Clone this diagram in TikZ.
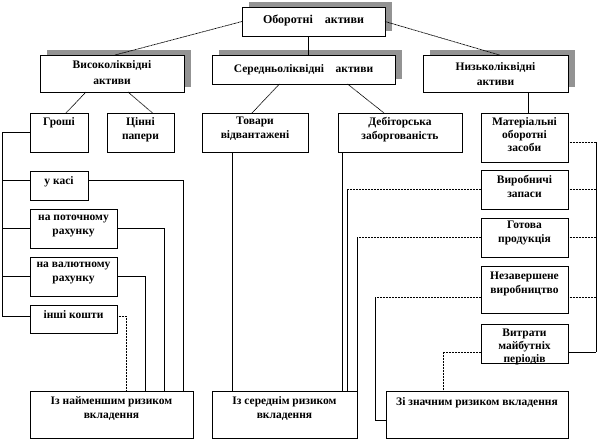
\documentclass[tikz,border=0pt]{standalone}
\usepackage{fontspec}
\setmainfont{Liberation Serif}[BoldFont={Liberation Serif Bold}]
\begin{document}
\begin{tikzpicture}[x=1pt,y=-1pt,
  box/.style={draw=black,line width=0.8pt,fill=white,rectangle,inner sep=0pt,outer sep=0pt},
  shadowfill/.style={fill=gray!85},
  txt/.style={inner sep=0pt,outer sep=0pt,align=center,font=\bfseries\fontsize{11.5}{14}\selectfont},
  conn/.style={line width=0.7pt},
  dline/.style={line width=0.7pt,dash pattern=on 1pt off 0.5pt},
]
\useasboundingbox (0,0) rectangle (597,442);
\newcommand\bx[8][box]{%
  \node[#1,anchor=north west,minimum width={(#5-#3)*1pt},minimum height={(#6-#4)*1pt}] (#2) at (#3,#4) {};
  \node[txt,anchor=north] (#2t) at ([yshift=-#8pt]#2.north) {#7};}
\newcommand\shd[4]{\fill[shadowfill] (#1+7,#2-5) rectangle (#3+7,#4-5);}
% shadows
\shd{242}{7}{385}{36}
\shd{40}{55}{184}{92}
\shd{212}{55}{395}{84}
\shd{423}{55}{568}{92}
% level 1 and 2
\bx{top}{242}{7}{385}{36}{\fontsize{12}{14}\selectfont Оборотні\quad активи}{8}
\bx{hi}{40}{55}{184}{92}{Високоліквідні\\[2pt]активи}{6}
\bx{mid}{212}{55}{395}{84}{Середньоліквідні\quad активи}{10}
\bx{lo}{423}{55}{568}{92}{Низьколіквідні\\[1pt]активи}{8}
% level 3
\bx{money}{30}{113}{88}{152}{Гроші}{5}
\bx{secur}{107}{113}{174}{152}{Цінні\\папери}{5}
\bx{goods}{202}{113}{308}{152}{Товари\\відвантажені}{4}
\bx{debt}{338}{113}{462}{152}{Дебіторська\\заборгованість}{4}
\bx{mat}{481}{113}{568}{162}{Матеріальні\\[-1pt]оборотні\\[-1pt]засоби}{5}
% left column
\bx{cash}{30}{171}{88}{200}{у касі}{6}
\bx{cur}{30}{209}{117}{248}{на поточному\\рахунку}{6}
\bx{val}{30}{257}{117}{296}{на валютному\\рахунку}{5}
\bx{oth}{30}{305}{117}{333}{інші кошти}{6}
% right column
\bx{prod}{481}{170}{568}{209}{Виробничі\\запаси}{5}
\bx{fin}{481}{218}{568}{257}{Готова\\продукція}{3}
\bx{wip}{481}{266}{568}{313}{Незавершене\\виробництво}{6}
\bx{fut}{481}{324}{568}{363}{Витрати\\[-1pt]майбутніх\\[-1pt]періодів}{5}
% bottom
\bx{riskA}{30}{391}{193}{438}{Із найменшим ризиком\\вкладення}{6}
\bx{riskB}{212}{391}{357}{438}{Із середнім ризиком\\вкладення}{6}
\bx{riskC}{386}{391}{568}{438}{Зі значним ризиком вкладення}{7}
% top connectors
\draw[dline] (top.west) -- ([xshift=3pt]hi.north);
\draw[conn] ([xshift=-5pt]top.south) -- ([xshift=-5pt]top.south |- mid.north);
\draw[dline] (top.east) -- ([xshift=4pt]lo.north);
\draw[dline] ([xshift=-26pt]hi.south) -- ([xshift=7pt]money.north);
\draw[dline] ([xshift=16pt]hi.south) -- ([xshift=12pt]secur.north);
\draw[dline] ([xshift=-24pt]mid.south) -- ([xshift=-3pt]goods.north);
\draw[dline] ([xshift=44pt]mid.south) -- ([xshift=-16pt]debt.north);
\draw[conn] ([xshift=4pt]mat.north) -- ([xshift=4pt]mat.north |- lo.south);
% left bus
\coordinate (lbus) at (2,316);
\draw[conn] (money.west) -| (lbus) -- (lbus -| oth.west);
\draw[conn] ([yshift=5pt]cash.west) -- ([yshift=5pt]cash.west -| lbus);
\draw[conn] (cur.west) -- (cur.west -| lbus);
\draw[conn] (val.west) -- (val.west -| lbus);
% left column to bottom
\draw[conn] ([yshift=5pt]cash.east) -| (183,0 |- riskA.north);
\draw[conn] (cur.east) -| (164,0 |- riskA.north);
\draw[conn] (val.east) -| (145,0 |- riskA.north);
\draw[dline] ([yshift=3pt]oth.east) -| (126,0 |- riskA.north);
% middle
\draw[conn] (232,0 |- goods.south) -- (232,0 |- riskB.north);
\draw[conn] (342,0 |- debt.south) -- (342,0 |- riskB.north);
\coordinate (p1) at (347,0 |- prod.west);
\draw[dline] (prod.west) -- (p1);
\draw[conn] (p1) -- (p1 |- riskB.north);
\coordinate (p2) at (357,0 |- fin.west);
\draw[dline] (fin.west) -- (p2);
\draw[conn] (p2) -- (p2 |- riskB.north);
\coordinate (p3) at (375,297);
\draw[dline] ([yshift=-7.5pt]wip.west) -- (p3);
\draw[conn] (p3) |- ([yshift=-5.5pt]riskC.west);
\draw[dline] ([yshift=-8.5pt]fut.west) -| (443,0 |- riskC.north);
% right bus
\coordinate (rbus) at (596,142);
\draw[dline] ([yshift=-4.5pt]mat.east) -- (rbus);
\draw[conn] (rbus) -- (596,352);
\draw[dline] (prod.east) -- (prod.east -| rbus);
\draw[dline] (fin.east) -- (fin.east -| rbus);
\draw[dline] ([yshift=-7.5pt]wip.east) -- ([yshift=-7.5pt]wip.east -| rbus);
\draw[conn] ([yshift=-8.5pt]fut.east) -- ([yshift=-8.5pt]fut.east -| rbus);
\end{tikzpicture}
\end{document}
